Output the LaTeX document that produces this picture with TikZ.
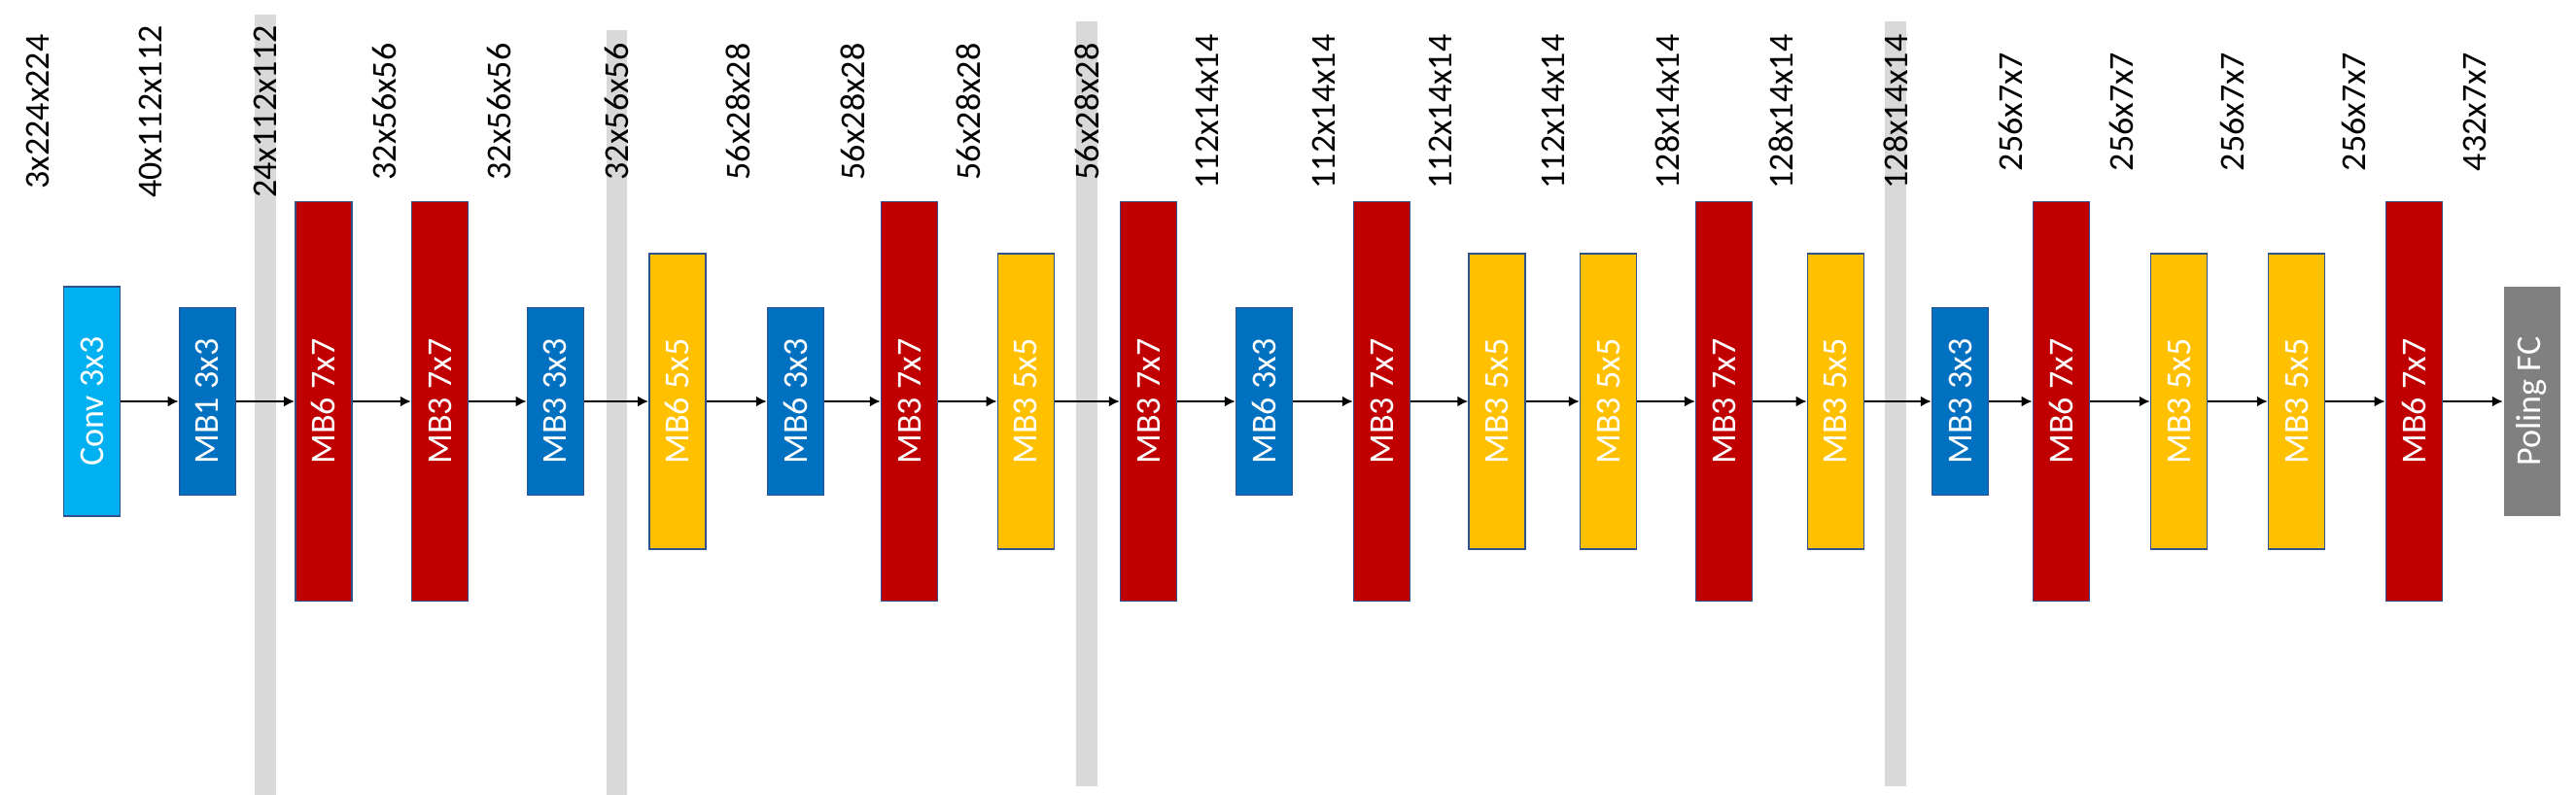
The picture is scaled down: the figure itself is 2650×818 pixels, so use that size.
\documentclass[tikz,border=0pt]{standalone}
\usepackage{fontspec}
\setmainfont{Carlito}
\usetikzlibrary{arrows.meta}
\definecolor{cconv}{HTML}{00B0F0}
\definecolor{cblue}{HTML}{0070C0}
\definecolor{cred}{HTML}{C00000}
\definecolor{cyel}{HTML}{FFC000}
\definecolor{cgray}{HTML}{808080}
\definecolor{cbar}{HTML}{D9D9D9}
\definecolor{cedge}{HTML}{2F528F}
\tikzset{
  blk/.style={rectangle, draw=cedge, line width=1.5pt, minimum width=58pt, inner sep=0pt,
    text=white, font=\fontsize{36}{40}\selectfont},
  convb/.style={blk, fill=cconv, minimum height=236pt},
  blueb/.style={blk, fill=cblue, minimum height=193pt},
  yelb/.style={blk, fill=cyel, minimum height=304pt},
  redb/.style={blk, fill=cred, minimum height=411pt},
  fcb/.style={blk, draw=none, fill=cgray, minimum height=236pt},
  lbl/.style={rotate=90, inner sep=0pt, font=\fontsize{36}{40}\selectfont, text=black},
  barstyle/.style={fill=cbar},
  conn/.style={line width=2pt, -{Latex[length=11pt,width=11pt]}}
}
\begin{document}
\begin{tikzpicture}[x=1pt,y=-1pt]
\useasboundingbox (0,0) rectangle (2650,818);
% separator bars
\fill[barstyle] (262,15) rectangle (283.7,818);
\fill[barstyle] (623.5,31) rectangle (645,818);
\fill[barstyle] (1107,22) rectangle (1129,809);
\fill[barstyle] (1938.5,22) rectangle (1961,809);
% blocks
\node[convb] (n1) at (94.5,413) {\rotatebox{90}{Conv 3x3}};
\node[blueb] (n2) at (213.4,413) {\rotatebox{90}{MB1 3x3}};
\node[redb] (n3) at (332.8,413) {\rotatebox{90}{MB6 7x7}};
\node[redb] (n4) at (452.5,413) {\rotatebox{90}{MB3 7x7}};
\node[blueb] (n5) at (571.4,413) {\rotatebox{90}{MB3 3x3}};
\node[yelb] (n6) at (696.8,413) {\rotatebox{90}{MB6 5x5}};
\node[blueb] (n7) at (818.5,413) {\rotatebox{90}{MB6 3x3}};
\node[redb] (n8) at (935.5,413) {\rotatebox{90}{MB3 7x7}};
\node[yelb] (n9) at (1055.4,413) {\rotatebox{90}{MB3 5x5}};
\node[redb] (n10) at (1181.5,413) {\rotatebox{90}{MB3 7x7}};
\node[blueb] (n11) at (1300.5,413) {\rotatebox{90}{MB6 3x3}};
\node[redb] (n12) at (1421.5,413) {\rotatebox{90}{MB3 7x7}};
\node[yelb] (n13) at (1540,413) {\rotatebox{90}{MB3 5x5}};
\node[yelb] (n14) at (1654.5,413) {\rotatebox{90}{MB3 5x5}};
\node[redb] (n15) at (1773.6,413) {\rotatebox{90}{MB3 7x7}};
\node[yelb] (n16) at (1888.4,413) {\rotatebox{90}{MB3 5x5}};
\node[blueb] (n17) at (2016.5,413) {\rotatebox{90}{MB3 3x3}};
\node[redb] (n18) at (2120.3,413) {\rotatebox{90}{MB6 7x7}};
\node[yelb] (n19) at (2241.5,413) {\rotatebox{90}{MB3 5x5}};
\node[yelb] (n20) at (2362.5,413) {\rotatebox{90}{MB3 5x5}};
\node[redb] (n21) at (2483.3,413) {\rotatebox{90}{MB6 7x7}};
\node[fcb] (n22) at (2604.5,413) {\rotatebox{90}{Poling FC}};
% connectors
\foreach \a/\b in {n1/n2,n2/n3,n3/n4,n4/n5,n5/n6,n6/n7,n7/n8,n8/n9,n9/n10,n10/n11,n11/n12,n12/n13,n13/n14,n14/n15,n15/n16,n16/n17,n17/n18,n18/n19,n19/n20,n20/n21,n21/n22}
  \draw[conn] (\a) -- (\b);
% size labels
\node[lbl] (l1) at (39.3,115) {3x224x224};
\node[lbl] (l2) at (155,115) {40x112x112};
\node[lbl] (l3) at (273,115) {24x112x112};
\node[lbl] (l4) at (395,115) {32x56x56};
\node[lbl] (l5) at (513,115) {32x56x56};
\node[lbl] (l6) at (634,115) {32x56x56};
\node[lbl] (l7) at (759.4,115) {56x28x28};
\node[lbl] (l8) at (877,115) {56x28x28};
\node[lbl] (l9) at (996,115) {56x28x28};
\node[lbl] (l10) at (1118,115) {56x28x28};
\node[lbl] (l11) at (1241.5,115) {112x14x14};
\node[lbl] (l12) at (1361.6,115) {112x14x14};
\node[lbl] (l13) at (1482,115) {112x14x14};
\node[lbl] (l14) at (1598,115) {112x14x14};
\node[lbl] (l15) at (1715,115) {128x14x14};
\node[lbl] (l16) at (1832.6,115) {128x14x14};
\node[lbl] (l17) at (1950,115) {128x14x14};
\node[lbl] (l18) at (2068,115) {256x7x7};
\node[lbl] (l19) at (2182,115) {256x7x7};
\node[lbl] (l20) at (2296,115) {256x7x7};
\node[lbl] (l21) at (2421,115) {256x7x7};
\node[lbl] (l22) at (2546,115) {432x7x7};
\end{tikzpicture}
\end{document}
